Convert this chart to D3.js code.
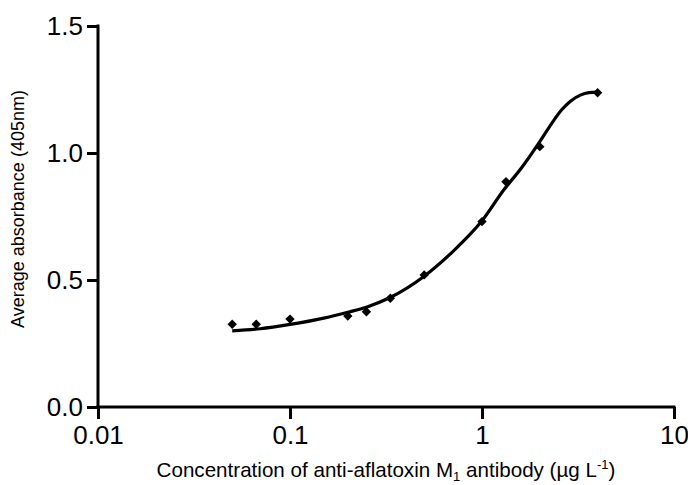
<!DOCTYPE html>
<html>
<head>
<meta charset="utf-8">
<script src="https://cdn.jsdelivr.net/npm/d3@7"></script>
<style>
  html, body { margin: 0; padding: 0; background: #fff; }
  svg { display: block; }
  text { font-family: "Liberation Sans", Arial, sans-serif; fill: #000; }
</style>
</head>
<body>
<svg id="chart" width="688" height="485"></svg>
<script>
// Measured data points
const concentrations = [0.05, 0.0667, 0.1, 0.2, 0.25, 0.333, 0.5, 1, 1.333, 2, 4];
const absorbance     = [0.326, 0.326, 0.346, 0.358, 0.375, 0.428, 0.52, 0.73, 0.887, 1.025, 1.237];

// Fitted curve
const fitX = [0.05, 0.07, 0.1, 0.15, 0.2, 0.25, 0.33, 0.5, 0.7, 1, 1.3, 1.6, 2, 2.3, 2.6, 2.9, 3.25, 3.6, 4];
const fitY = [0.300, 0.308, 0.325, 0.350, 0.373, 0.393, 0.430, 0.515, 0.610, 0.733, 0.855, 0.940, 1.045, 1.115, 1.170, 1.205, 1.228, 1.238, 1.240];

const xTicks = [0.01, 0.1, 1, 10];
const xTickLabels = ["0.01", "0.1", "1", "10"];
const yTicks = [0, 0.5, 1.0, 1.5];
const yTickLabels = ["0.0", "0.5", "1.0", "1.5"];

(function () {
const svg = d3.select("#chart");
const mL = 98, mR = 674, mT = 26, mB = 407;

const x = d3.scaleLog().domain([0.01, 10]).range([mL, mR]);
const y = d3.scaleLinear().domain([0, 1.5]).range([mB, mT]);

// X axis
const xAxis = d3.axisBottom(x).tickValues(xTicks)
  .tickFormat((d, i) => xTickLabels[i]).tickSizeOuter(0).tickSizeInner(12).tickPadding(7);
const gx = svg.append("g").attr("transform", `translate(0,${mB})`).call(xAxis);
gx.select(".domain").attr("stroke", "#000").attr("stroke-width", 3).attr("d", `M${mL - 1.5},0H${mR + 1.5}`);
gx.selectAll(".tick line").attr("stroke", "#000").attr("stroke-width", 3);
gx.selectAll(".tick text").style("font-size", "26px").style("font-family", '"Liberation Sans", Arial, sans-serif');

// Y axis
const yAxis = d3.axisLeft(y).tickValues(yTicks)
  .tickFormat((d, i) => yTickLabels[i]).tickSizeOuter(0).tickSizeInner(11).tickPadding(4);
const gy = svg.append("g").attr("transform", `translate(${mL},0)`).call(yAxis);
gy.select(".domain").attr("stroke", "#000").attr("stroke-width", 3).attr("d", `M0,${mT - 1.5}V${mB + 1.5}`);
gy.selectAll(".tick line").attr("stroke", "#000").attr("stroke-width", 3);
gy.selectAll(".tick text").style("font-size", "26px").style("font-family", '"Liberation Sans", Arial, sans-serif');

// Fit curve
const fitData = fitX.map((d, i) => [d, fitY[i]]);
svg.append("path")
  .datum(fitData)
  .attr("fill", "none")
  .attr("stroke", "#000")
  .attr("stroke-width", 3.2)
  .attr("stroke-linejoin", "round")
  .attr("d", d3.line().x(d => x(d[0])).y(d => y(d[1])).curve(d3.curveMonotoneX));

// Points
const pts = concentrations.map((d, i) => [d, absorbance[i]]);
svg.append("g").selectAll("path")
  .data(pts).join("path")
  .attr("d", d3.symbol(d3.symbolSquare, 44))
  .attr("transform", d => `translate(${x(d[0])},${y(d[1])}) rotate(45)`)
  .attr("fill", "#000");

// Axis titles
svg.append("text")
  .attr("transform", `translate(24,${209}) rotate(-90)`)
  .attr("text-anchor", "middle")
  .style("font-size", "18px")
  .text("Average absorbance (405nm)");

const xt = svg.append("text")
  .attr("x", 386)
  .attr("y", 477)
  .attr("text-anchor", "middle")
  .style("font-size", "20.6px");
xt.append("tspan").text("Concentration of anti-aflatoxin M");
xt.append("tspan").attr("dy", 4).style("font-size", "13px").text("1");
xt.append("tspan").attr("dy", -4).text(" antibody (µg L");
xt.append("tspan").attr("dy", -8).style("font-size", "13px").text("-1");
xt.append("tspan").attr("dy", 8).text(")");
})();
</script>
</body>
</html>
